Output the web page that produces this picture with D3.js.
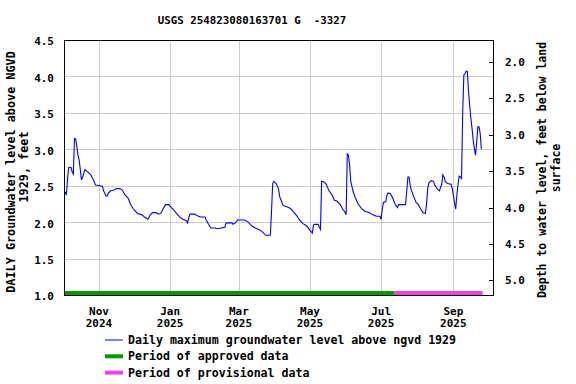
<!DOCTYPE html>
<html>
<head>
<meta charset="utf-8">
<script src="https://cdn.jsdelivr.net/npm/d3@7"></script>
<style>
body { margin: 0; background: #fff; }
text { font-family: "DejaVu Sans Mono", monospace; font-weight: bold; fill: #000; }
</style>
</head>
<body>
<div id="chart"></div>
<script>
// daily maximum groundwater level, feet above NGVD 1929
const dates = [
"2024-10-03","2024-10-04","2024-10-05","2024-10-06","2024-10-08","2024-10-09","2024-10-10","2024-10-11",
"2024-10-12","2024-10-13","2024-10-14","2024-10-15","2024-10-16","2024-10-17","2024-10-18","2024-10-19",
"2024-10-20","2024-10-23","2024-10-25","2024-10-27","2024-10-29","2024-11-02","2024-11-04","2024-11-05",
"2024-11-07","2024-11-08","2024-11-09","2024-11-11","2024-11-14","2024-11-16","2024-11-19","2024-11-21",
"2024-11-23","2024-11-26","2024-11-28","2024-11-30","2024-12-04","2024-12-08","2024-12-10","2024-12-13",
"2024-12-15","2024-12-17","2024-12-20","2024-12-22","2024-12-24","2024-12-26","2024-12-28","2024-12-31",
"2025-01-01","2025-01-04","2025-01-07","2025-01-10","2025-01-12","2025-01-15","2025-01-16","2025-01-17",
"2025-01-18","2025-01-22","2025-01-24","2025-01-27","2025-01-31","2025-02-01","2025-02-03","2025-02-05",
"2025-02-08","2025-02-11","2025-02-14","2025-02-17","2025-02-18","2025-02-23","2025-02-24","2025-02-26",
"2025-02-28","2025-03-06","2025-03-09","2025-03-12","2025-03-15","2025-03-18","2025-03-21","2025-03-24",
"2025-03-28","2025-03-29","2025-03-30","2025-03-31","2025-04-02","2025-04-04","2025-04-05","2025-04-07",
"2025-04-08","2025-04-11","2025-04-14","2025-04-17","2025-04-20","2025-04-22","2025-04-25","2025-04-28",
"2025-05-01","2025-05-03","2025-05-04","2025-05-05","2025-05-08","2025-05-09","2025-05-10","2025-05-11",
"2025-05-13","2025-05-15","2025-05-17","2025-05-20","2025-05-22","2025-05-24","2025-05-27","2025-05-29",
"2025-05-31","2025-06-01","2025-06-02","2025-06-03","2025-06-04","2025-06-05","2025-06-07","2025-06-09",
"2025-06-11","2025-06-14","2025-06-17","2025-06-21","2025-06-24","2025-06-27","2025-06-30","2025-07-01",
"2025-07-02","2025-07-03","2025-07-05","2025-07-06","2025-07-07","2025-07-09","2025-07-11","2025-07-13",
"2025-07-15","2025-07-16","2025-07-22","2025-07-23","2025-07-24","2025-07-25","2025-07-26","2025-07-27",
"2025-07-29","2025-07-31","2025-08-02","2025-08-04","2025-08-06","2025-08-08","2025-08-09","2025-08-10",
"2025-08-11","2025-08-13","2025-08-15","2025-08-16","2025-08-18","2025-08-20","2025-08-22","2025-08-23",
"2025-08-24","2025-08-25","2025-08-27","2025-08-30","2025-08-31","2025-09-01","2025-09-02","2025-09-03",
"2025-09-04","2025-09-05","2025-09-06","2025-09-07","2025-09-08","2025-09-09","2025-09-10","2025-09-11",
"2025-09-12","2025-09-13","2025-09-14","2025-09-15","2025-09-16","2025-09-17","2025-09-18","2025-09-19",
"2025-09-20","2025-09-21","2025-09-22","2025-09-23","2025-09-24","2025-09-25"
];
const levels = [
2.42,2.37,2.58,2.75,2.75,2.69,2.66,3.15,
3.14,3.04,2.92,2.85,2.72,2.58,2.62,2.67,
2.72,2.68,2.65,2.59,2.51,2.50,2.49,2.43,
2.36,2.36,2.40,2.43,2.44,2.46,2.46,2.44,
2.38,2.33,2.25,2.19,2.12,2.10,2.07,2.04,
2.10,2.13,2.13,2.11,2.12,2.18,2.24,2.24,
2.22,2.17,2.11,2.06,2.04,2.02,1.99,2.06,
2.11,2.11,2.09,2.07,2.07,2.03,1.97,1.92,
1.92,1.91,1.92,1.93,1.99,1.99,1.97,1.99,
2.03,2.03,2.00,1.95,1.92,1.90,1.87,1.82,
1.82,2.14,2.53,2.56,2.53,2.46,2.35,2.27,
2.23,2.21,2.19,2.14,2.08,2.03,1.98,1.95,
1.89,1.85,1.96,1.97,1.97,1.93,1.90,2.56,
2.55,2.52,2.44,2.37,2.30,2.29,2.24,2.18,
2.14,2.10,2.94,2.92,2.78,2.56,2.42,2.33,
2.26,2.19,2.15,2.13,2.10,2.08,2.08,2.04,
2.17,2.27,2.28,2.37,2.40,2.39,2.33,2.25,
2.20,2.24,2.24,2.42,2.62,2.62,2.50,2.44,
2.35,2.27,2.24,2.18,2.13,2.12,2.25,2.46,
2.54,2.57,2.56,2.51,2.46,2.43,2.52,2.65,
2.62,2.56,2.53,2.52,2.46,2.37,2.27,2.18,
2.37,2.52,2.63,2.62,2.60,3.50,4.02,4.04,
4.07,4.07,3.80,3.60,3.43,3.29,3.13,3.01,
2.92,3.10,3.31,3.31,3.22,3.00
];

const levelTicks = [1.0, 1.5, 2.0, 2.5, 3.0, 3.5, 4.0, 4.5];
const depthTicks = [2.0, 2.5, 3.0, 3.5, 4.0, 4.5, 5.0];
const monthTicks = ["2024-11-01","2025-01-01","2025-03-01","2025-05-01","2025-07-01","2025-09-01"];
const monthNames = ["Nov","Jan","Mar","May","Jul","Sep"];
const monthYears = ["2024","2025","2025","2025","2025","2025"];
const landSurface = 6.2;   // level above NGVD of land surface, so depth = landSurface - level
const approvedPeriod = ["2024-10-02","2025-07-12"];
const provisionalPeriod = ["2025-07-12","2025-09-26"];
const dateRange = ["2024-10-02","2025-10-05"];
const legendLabels = [
  "Daily maximum groundwater level above ngvd 1929",
  "Period of approved data",
  "Period of provisional data"
];

const parseDate = d3.timeParse("%Y-%m-%d");

let boxWidth = 576;
let boxHeight = 384;
let margin = { top: 40, right: 83, bottom: 89, left: 64 };
let width = boxWidth - margin.left - margin.right;
let height = boxHeight - margin.top - margin.bottom;

let svg = d3.select("#chart")
  .append("svg")
  .attr("width", boxWidth)
  .attr("height", boxHeight);

let plot = svg.append("g")
  .attr("transform", `translate(${margin.left}, ${margin.top})`);

let x = d3.scaleTime()
  .domain(dateRange.map(parseDate))
  .range([0, width]);

let y = d3.scaleLinear()
  .domain([1, 4.5])
  .range([height, 0]);

let yDepth = d3.scaleLinear()
  .domain([landSurface - 1, landSurface - 4.5])
  .range([height, 0]);

// gridlines
let yGrid = plot.append("g")
  .call(d3.axisLeft(y).tickValues(levelTicks).tickSize(-width).tickFormat(""));
let xGrid = plot.append("g")
  .attr("transform", `translate(0, ${height})`)
  .call(d3.axisBottom(x).tickValues(monthTicks.map(parseDate)).tickSize(-height).tickFormat(""));
[yGrid, xGrid].forEach(g => {
  g.select(".domain").remove();
  g.selectAll("line").attr("stroke", "#cccccc").attr("shape-rendering", "crispEdges");
});

// left axis labels
let yAxis = plot.append("g")
  .call(d3.axisLeft(y).tickValues(levelTicks).tickSize(0).tickPadding(10).tickFormat(d3.format(".1f")));
yAxis.select(".domain").remove();
yAxis.selectAll("text").attr("font-size", "11px").attr("dy", "0.45em").style("font-family", null);

// right axis (depth below land surface)
let yRight = plot.append("g")
  .attr("transform", `translate(${width}, 0)`)
  .call(d3.axisRight(yDepth).tickValues(depthTicks).tickSize(-4).tickPadding(12).tickFormat(d3.format(".1f")));
yRight.select(".domain").remove();
yRight.selectAll("line").attr("stroke", "#000").attr("shape-rendering", "crispEdges");
yRight.selectAll("text").attr("font-size", "11px").style("font-family", null);

// month labels, two lines each
let xLabels = plot.append("g")
  .selectAll("text")
  .data(monthTicks)
  .enter()
  .append("text")
  .attr("x", d => x(parseDate(d)))
  .attr("y", height + 20)
  .attr("text-anchor", "middle")
  .attr("font-size", "11px");
xLabels.append("tspan").text((d, i) => monthNames[i]);
xLabels.append("tspan")
  .attr("x", d => x(parseDate(d)))
  .attr("dy", 12)
  .text((d, i) => monthYears[i]);

// data period bars
plot.append("line")
  .attr("x1", x(parseDate(approvedPeriod[0])))
  .attr("x2", x(parseDate(approvedPeriod[1])))
  .attr("y1", y(1) - 2)
  .attr("y2", y(1) - 2)
  .attr("stroke", "#009900")
  .attr("stroke-width", 4);
plot.append("line")
  .attr("x1", x(parseDate(provisionalPeriod[0])))
  .attr("x2", x(parseDate(provisionalPeriod[1])))
  .attr("y1", y(1) - 2)
  .attr("y2", y(1) - 2)
  .attr("stroke", "#ee44dd")
  .attr("stroke-width", 4);

// groundwater line
let series = dates.map((d, i) => ({ date: parseDate(d), level: levels[i] }));
plot.append("path")
  .datum(series)
  .attr("fill", "none")
  .attr("stroke", "#0000ff")
  .attr("stroke-width", 1.1)
  .attr("d", d3.line().x(d => x(d.date)).y(d => y(d.level)));

// frame
plot.append("rect")
  .attr("x", 0).attr("y", 0)
  .attr("width", width).attr("height", height)
  .attr("fill", "none")
  .attr("stroke", "#000")
  .attr("shape-rendering", "crispEdges");

// title
svg.append("text")
  .attr("x", 252)
  .attr("y", 24)
  .attr("text-anchor", "middle")
  .attr("font-size", "10.8px")
  .style("white-space", "pre")
  .text("USGS 254823080163701 G  -3327");

// axis titles
svg.append("text")
  .attr("transform", "translate(15, 172) rotate(-90)")
  .attr("text-anchor", "middle")
  .attr("font-size", "11.8px")
  .text("DAILY Groundwater level above NGVD");
svg.append("text")
  .attr("transform", "translate(27.5, 167) rotate(-90)")
  .attr("text-anchor", "middle")
  .attr("font-size", "11.8px")
  .text("1929, feet");
svg.append("text")
  .attr("transform", "translate(546, 170) rotate(-90)")
  .attr("text-anchor", "middle")
  .attr("font-size", "11.5px")
  .text("Depth to water level, feet below land");
svg.append("text")
  .attr("transform", "translate(560, 168) rotate(-90)")
  .attr("text-anchor", "middle")
  .attr("font-size", "11.5px")
  .text("surface");

// legend
let legendColors = ["#0000ff", "#009900", "#ee44dd"];
let legendWidths = [1, 4, 4];
let legend = svg.append("g");
legendLabels.forEach((label, i) => {
  let ly = 340 + i * 16.3;
  legend.append("line")
    .attr("x1", 105).attr("x2", 123)
    .attr("y1", ly).attr("y2", ly)
    .attr("stroke", legendColors[i])
    .attr("stroke-width", legendWidths[i]);
  legend.append("text")
    .attr("x", 128)
    .attr("y", ly + 4)
    .attr("font-size", "11.6px")
    .text(label);
});
</script>
</body>
</html>
